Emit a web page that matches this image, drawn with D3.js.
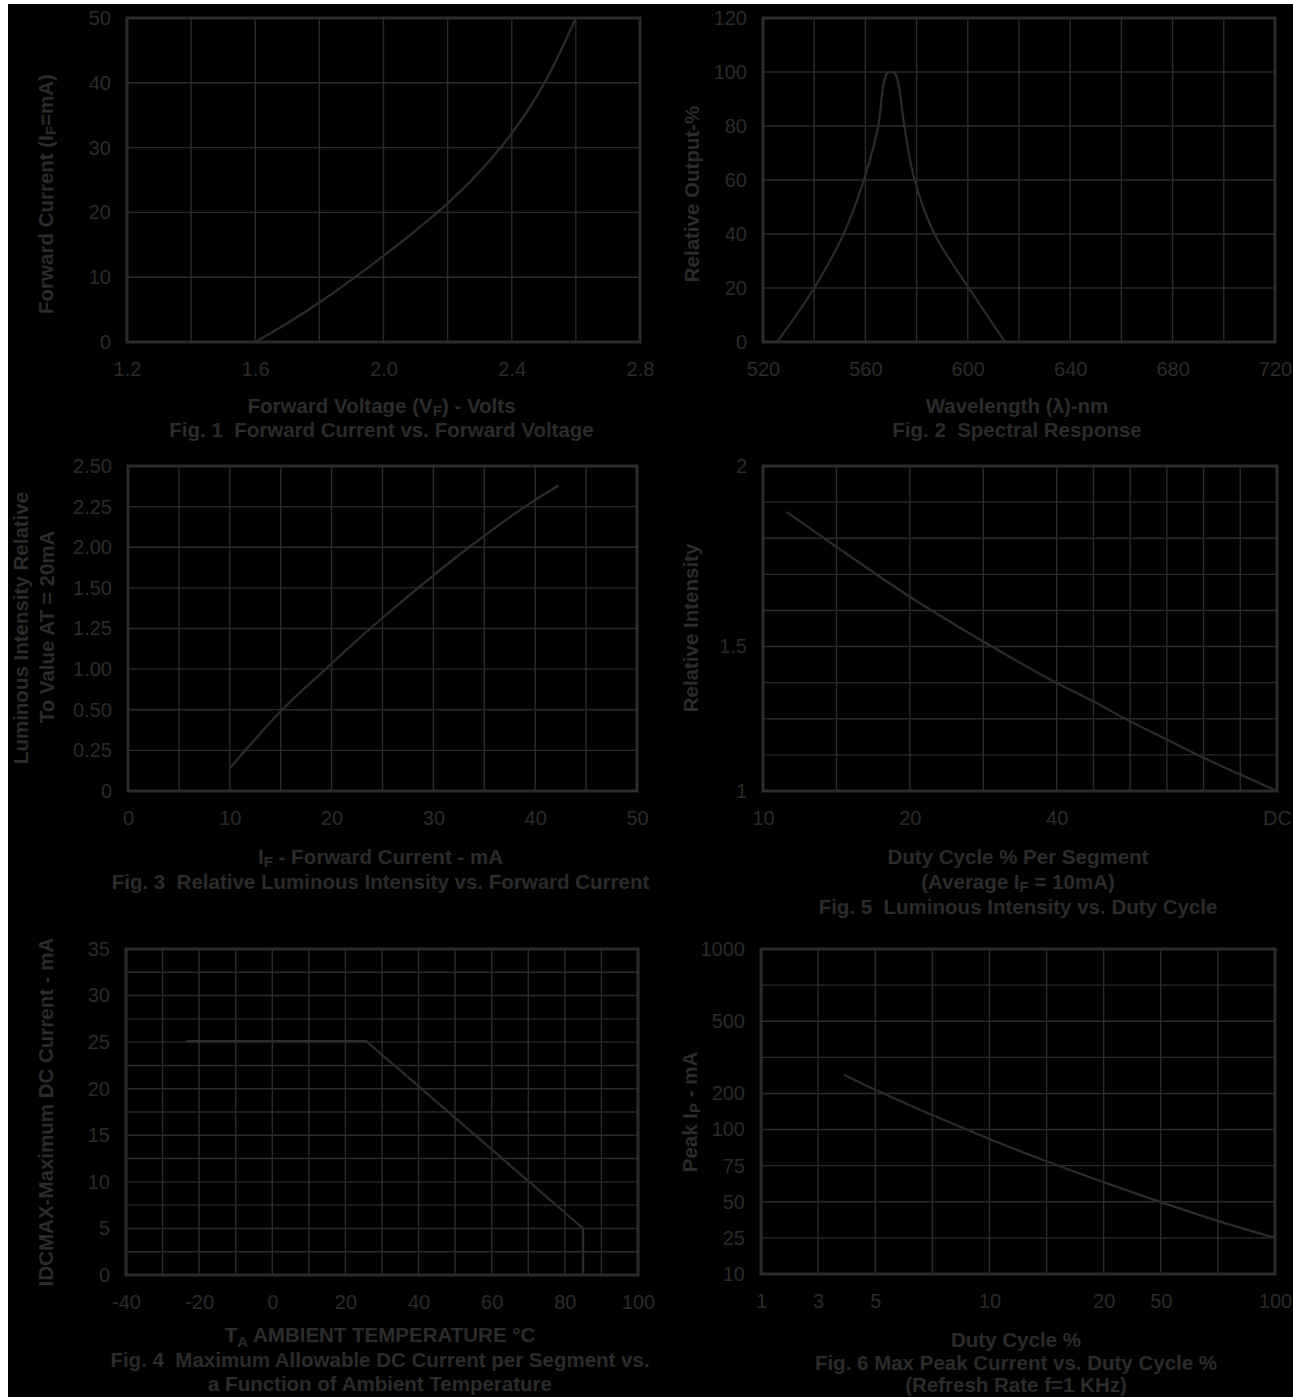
<!DOCTYPE html>
<html>
<head>
<meta charset="utf-8">
<script src="https://cdn.jsdelivr.net/npm/d3@7"></script>
<style>
  body { margin: 0; background: #fff; }
  svg { display: block; }
  text { font-family: "Liberation Sans", Arial, Helvetica, sans-serif; fill: #2b2b2b; white-space: pre; }
</style>
</head>
<body>
<svg id="chart" width="1293" height="1397"></svg>
<script>
// ---- Fig. 1 forward current vs forward voltage
var fig1VoltTicks = [1.2, 1.6, 2.0, 2.4, 2.8];
var fig1VoltGrid = [1.2, 1.4, 1.6, 1.8, 2.0, 2.2, 2.4, 2.6, 2.8];
var fig1CurrentTicks = [0, 10, 20, 30, 40, 50];
var fig1Volts = [1.6, 1.7, 1.8, 1.9, 2.0, 2.1, 2.2, 2.3, 2.4, 2.5, 2.6];
var fig1Current = [0, 2.9, 6.1, 9.6, 13.3, 17.2, 21.4, 26.3, 32.2, 39.8, 50];

// ---- Fig. 2 spectral response
var fig2WaveTicks = [520, 560, 600, 640, 680, 720];
var fig2WaveGrid = [520, 540, 560, 580, 600, 620, 640, 660, 680, 700, 720];
var fig2OutputTicks = [0, 20, 40, 60, 80, 100, 120];
var fig2Wave = [525.5, 540, 551.5, 559.4, 565, 567, 568.5, 570, 571.5, 573, 575.2, 579.2, 587, 600.4, 614.6];
var fig2Output = [0, 20, 40, 60, 80, 95, 99.5, 100, 99.5, 95, 80, 60, 40, 20, 0];

// ---- Fig. 3 relative luminous intensity vs forward current
var fig3CurrentTicks = [0, 10, 20, 30, 40, 50];
var fig3CurrentGrid = [0, 5, 10, 15, 20, 25, 30, 35, 40, 45, 50];
var fig3IntensityTicks = [0, 0.25, 0.5, 1.0, 1.25, 1.5, 2.0, 2.25, 2.5];
var fig3IntensityLabels = ["0", "0.25", "0.50", "1.00", "1.25", "1.50", "2.00", "2.25", "2.50"];
var fig3Current = [10, 15.15, 19.4, 23.8, 28.5, 33.5, 39, 42.3];
var fig3Intensity = [0.14, 0.5, 1.0, 1.25, 1.5, 2.0, 2.25, 2.38];

// ---- Fig. 5 luminous intensity vs duty cycle
var fig5DutyTicks = [10, 20, 40, 100];
var fig5DutyLabels = ["10", "20", "40", "DC"];
var fig5DutyGrid = [10, 15, 20, 30, 40, 50, 60, 70, 80, 90, 100];
var fig5IntensityTicks = [1, 1.5, 2];
var fig5IntensityLabels = ["1", "1.5", "2"];
var fig5IntensityGrid = [1, 1.125, 1.25, 1.375, 1.5, 1.6, 1.7, 1.8, 1.9, 2];
var fig5Duty = [11.6, 15, 20, 30, 40, 50, 60, 70, 80, 90, 100];
var fig5Intensity = [1.873, 1.776, 1.638, 1.514, 1.374, 1.31, 1.241, 1.178, 1.115, 1.057, 1.0];

// ---- Fig. 4 max DC current vs ambient temperature
var fig4TempTicks = [-40, -20, 0, 20, 40, 60, 80, 100];
var fig4TempGrid = d3.range(-40, 101, 10);
var fig4CurrentTicks = [0, 5, 10, 15, 20, 25, 30, 35];
var fig4CurrentGrid = d3.range(0, 35.1, 2.5);
var fig4Temp = [-23.5, 25.7, 85, 85];
var fig4Current = [25.1, 25.1, 5, 0];

// ---- Fig. 6 max peak current vs duty cycle
var fig6DutyTicks = [1, 3, 5, 10, 20, 50, 100];
var fig6DutyGrid = [1, 3, 5, 7.5, 10, 15, 20, 50, 75, 100];
var fig6PeakTicks = [10, 25, 50, 75, 100, 200, 500, 1000];
var fig6PeakGrid = [10, 25, 50, 75, 100, 200, 350, 500, 750, 1000];
var fig6Duty = [3.9, 5, 7.5, 10, 15, 20, 50, 75, 100];
var fig6Peak = [278, 215, 140, 93.5, 78, 63.5, 49.75, 36.75, 25];

var ink = "#2b2b2b";
var svg = d3.select("#chart");

// page is black inside a thin white margin
svg.append("rect").attr("x", 8).attr("y", 4).attr("width", 1285).attr("height", 1393).attr("fill", "#000");

// write text, "{X}" marks a subscript
function label(g, str, x, y, size, weight, subDrop) {
  var t = g.append("text")
    .attr("x", x).attr("y", y)
    .attr("text-anchor", "middle")
    .attr("xml:space", "preserve")
    .style("font-size", size + "px")
    .style("font-weight", weight);
  var parts = str.split(/\{|\}/);
  var drop = subDrop || 3;
  parts.forEach(function (p, i) {
    if (p === "") return;
    var s = t.append("tspan").text(p);
    if (i % 2 === 1) {
      s.style("font-size", Math.round(size * 0.72) + "px").attr("dy", drop);
    } else if (i > 0 && parts[i - 1] !== "") {
      s.attr("dy", -drop);
    }
  });
  return t;
}

function stops(fr, a, b) {
  return fr.map(function (f) { return a + f * (b - a); });
}

function panel(p) {
  var g = svg.append("g");
  var x = d3.scaleLinear().domain(p.xDomain).range(stops(p.xStops || [0, 1], p.left, p.right));
  var y = d3.scaleLinear().domain(p.yDomain).range(stops(p.yStops || [0, 1], p.bottom, p.top));

  //grid
  g.selectAll("line.v").data(p.xGrid).enter().append("line")
    .attr("class", "v")
    .attr("x1", function (d) { return x(d); }).attr("x2", function (d) { return x(d); })
    .attr("y1", p.top).attr("y2", p.bottom)
    .attr("stroke", ink).attr("stroke-width", 1.4);
  g.selectAll("line.h").data(p.yGrid).enter().append("line")
    .attr("class", "h")
    .attr("y1", function (d) { return y(d); }).attr("y2", function (d) { return y(d); })
    .attr("x1", p.left).attr("x2", p.right)
    .attr("stroke", ink).attr("stroke-width", 1.4);

  g.append("rect")
    .attr("x", p.left).attr("y", p.top)
    .attr("width", p.right - p.left).attr("height", p.bottom - p.top)
    .attr("fill", "none").attr("stroke", ink).attr("stroke-width", 3);

  // curve
  var pts = p.xs.map(function (d, i) { return [d, p.ys[i]]; });
  var line = d3.line()
    .x(function (d) { return x(d[0]); })
    .y(function (d) { return y(d[1]); })
    .curve(p.curve || d3.curveMonotoneX);
  g.append("path").datum(pts)
    .attr("d", line)
    .attr("fill", "none").attr("stroke", ink).attr("stroke-width", 2.2);

  // tick labels
  var xAxis = d3.axisBottom(x).tickValues(p.xTicks).tickSize(0).tickPadding(20)
    .tickFormat(function (d, i) { return p.xLabels ? p.xLabels[i] : String(d); });
  var yAxis = d3.axisLeft(y).tickValues(p.yTicks).tickSize(0).tickPadding(16)
    .tickFormat(function (d, i) { return p.yLabels ? p.yLabels[i] : String(d); });
  g.append("g").attr("transform", "translate(0," + p.bottom + ")").call(xAxis)
    .call(function (a) { a.select(".domain").remove(); });
  g.append("g").attr("transform", "translate(" + p.left + ",0)").call(yAxis)
    .call(function (a) { a.select(".domain").remove(); });
  g.selectAll(".tick text")
    .attr("fill", ink)
    .style("font-family", "'Liberation Sans', Arial, sans-serif")
    .style("font-size", "20px");
  g.selectAll(".tick line").remove();

  // y title (rotated)
  p.yTitle.forEach(function (t) {
    label(g, t.text, 0, 0, 20.5, "bold")
      .attr("dy", "0.36em")
      .attr("transform", "translate(" + t.x + "," + t.y + ") rotate(-90)");
  });
  // titles under the chart
  var cx = (p.left + p.right) / 2 - 2;
  p.captions.forEach(function (c) {
    label(g, c.text, cx, c.y, 20.5, "bold", c.drop);
  });
}

panel({
  left: 127, right: 640, top: 18, bottom: 342,
  xDomain: [1.2, 2.8], yDomain: [0, 50],
  xGrid: fig1VoltGrid, yGrid: fig1CurrentTicks,
  xTicks: fig1VoltTicks, xLabels: fig1VoltTicks.map(function (d) { return d.toFixed(1); }),
  yTicks: fig1CurrentTicks,
  xs: fig1Volts, ys: fig1Current, curve: d3.curveCatmullRom.alpha(0.5),
  yTitle: [{ text: "Forward Current (I{F}=mA)", x: 46, y: 194 }],
  captions: [
    { text: "Forward Voltage (V{F}) - Volts", y: 413 },
    { text: "Fig. 1  Forward Current vs. Forward Voltage", y: 437 }
  ]
});

panel({
  left: 763, right: 1275, top: 18, bottom: 342,
  xDomain: [520, 720], yDomain: [0, 120],
  xGrid: fig2WaveGrid, yGrid: fig2OutputTicks,
  xTicks: fig2WaveTicks, yTicks: fig2OutputTicks,
  xs: fig2Wave, ys: fig2Output, curve: d3.curveCatmullRom.alpha(0.5),
  yTitle: [{ text: "Relative Output-%", x: 692, y: 194 }],
  captions: [
    { text: "Wavelength (λ)-nm", y: 413 },
    { text: "Fig. 2  Spectral Response", y: 437 }
  ]
});

panel({
  left: 128, right: 637, top: 466, bottom: 791,
  xDomain: [0, 50], yDomain: fig3IntensityTicks,
  yStops: d3.range(9).map(function (i) { return i / 8; }),
  xGrid: fig3CurrentGrid, yGrid: fig3IntensityTicks,
  xTicks: fig3CurrentTicks, yTicks: fig3IntensityTicks, yLabels: fig3IntensityLabels,
  xs: fig3Current, ys: fig3Intensity, curve: d3.curveCatmullRom.alpha(0.5),
  yTitle: [
    { text: "Luminous Intensity Relative", x: 21, y: 628 },
    { text: "To Value AT = 20mA", x: 47, y: 627 }
  ],
  captions: [
    { text: "I{F} - Forward Current - mA", y: 864 },
    { text: "Fig. 3  Relative Luminous Intensity vs. Forward Current", y: 889 }
  ]
});

panel({
  left: 763, right: 1277, top: 466, bottom: 791,
  xDomain: fig5DutyTicks, xStops: [0, 4 / 14, 8 / 14, 1],
  yDomain: fig5IntensityTicks, yStops: [0, 4 / 9, 1],
  xGrid: fig5DutyGrid, yGrid: fig5IntensityGrid,
  xTicks: fig5DutyTicks, xLabels: fig5DutyLabels,
  yTicks: fig5IntensityTicks, yLabels: fig5IntensityLabels,
  xs: fig5Duty, ys: fig5Intensity,
  yTitle: [{ text: "Relative Intensity", x: 691, y: 628 }],
  captions: [
    { text: "Duty Cycle % Per Segment", y: 864 },
    { text: "(Average I{F} = 10mA)", y: 889 },
    { text: "Fig. 5  Luminous Intensity vs. Duty Cycle", y: 914 }
  ]
});

panel({
  left: 126, right: 638, top: 949, bottom: 1275,
  xDomain: [-40, 100], yDomain: [0, 35],
  xGrid: fig4TempGrid, yGrid: fig4CurrentGrid,
  xTicks: fig4TempTicks, yTicks: fig4CurrentTicks,
  xs: fig4Temp, ys: fig4Current, curve: d3.curveLinear,
  yTitle: [{ text: "IDCMAX-Maximum DC Current - mA", x: 46, y: 1112 }],
  captions: [
    { text: "T{A} AMBIENT TEMPERATURE °C", y: 1342, drop: 5 },
    { text: "Fig. 4  Maximum Allowable DC Current per Segment vs.", y: 1367 },
    { text: "a Function of Ambient Temperature", y: 1391 }
  ]
});

panel({
  left: 761, right: 1275, top: 949, bottom: 1274,
  xDomain: fig6DutyTicks, xStops: [0, 1, 2, 4, 6, 7, 9].map(function (c) { return c / 9; }),
  yDomain: fig6PeakTicks, yStops: [0, 1, 2, 3, 4, 5, 7, 9].map(function (r) { return r / 9; }),
  xGrid: fig6DutyGrid, yGrid: fig6PeakGrid,
  xTicks: fig6DutyTicks, yTicks: fig6PeakTicks,
  xs: fig6Duty, ys: fig6Peak,
  yTitle: [{ text: "Peak I{P} - mA", x: 690, y: 1112 }],
  captions: [
    { text: "Duty Cycle %", y: 1347 },
    { text: "Fig. 6 Max Peak Current vs. Duty Cycle %", y: 1370 },
    { text: "(Refresh Rate f=1 KHz)", y: 1392 }
  ]
});
</script>
</body>
</html>
